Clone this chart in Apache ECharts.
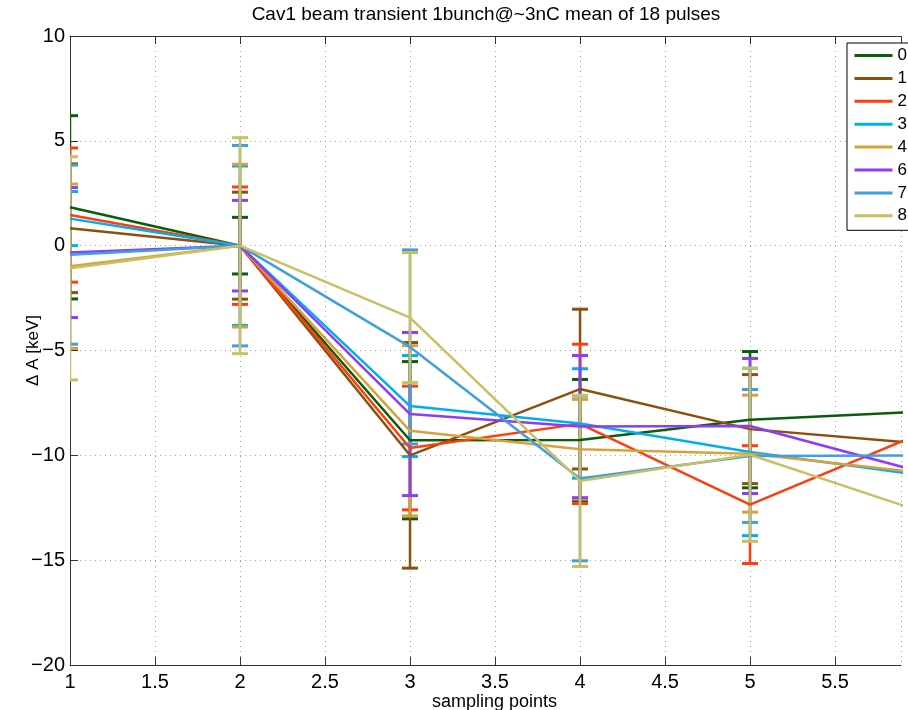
<!DOCTYPE html>
<html>
<head>
<meta charset="utf-8">
<title>Cav1 beam transient</title>
<script src="https://cdn.jsdelivr.net/npm/echarts@6/dist/echarts.min.js"></script>
<style>
  html, body { margin: 0; padding: 0; background: #fff; }
  #chart { width: 908px; height: 710px; }
</style>
</head>
<body>
<div id="chart"></div>
<script>
// Sampling points (x positions)
const samplingPoints = [1, 2, 3, 4, 5, 6];

// Bunch labels shown in the legend
const bunchNames = ['0', '1', '2', '3', '4', '6', '7', '8'];

// Mean amplitude deviation ΔA [keV] per bunch
const deltaA_0 = [1.83, 0, -9.28, -9.27, -8.30, -7.92];
const deltaA_1 = [0.83, 0, -10.0, -6.84, -8.75, -9.43];
const deltaA_2 = [1.46, 0, -9.65, -8.50, -12.35, -8.97];
const deltaA_3 = [1.29, 0, -7.65, -8.48, -9.84, -10.94];
const deltaA_4 = [-0.98, 0, -8.83, -9.71, -9.92, -10.83];
const deltaA_6 = [-0.33, 0, -8.03, -8.63, -8.60, -10.78];
const deltaA_7 = [-0.43, 0, -4.83, -11.10, -10.03, -10.00];
const deltaA_8 = [-1.08, 0, -3.43, -11.22, -9.97, -12.66];

// Error bar half-widths [keV] (null where no bar is drawn)
const err_0 = [4.37, 1.35, 3.75, 2.89, 3.25, null];
const err_1 = [3.07, 2.55, 5.38, 3.81, 2.60, null];
const err_2 = [3.20, 2.80, 2.95, 3.80, 2.81, null];
const err_3 = [1.29, 3.80, 2.41, 2.61, 3.99, null];
const err_4 = [3.92, 3.88, 4.06, 2.38, 2.79, null];
const err_6 = [3.10, 2.16, 3.89, 3.39, 3.22, null];
const err_7 = [4.27, 4.78, 4.63, 3.93, 3.17, null];
const err_8 = [5.32, 5.15, 3.10, 4.08, 4.13, null];

// Axis ticks
const xTickStep = 0.5;
const yTicks = [-20, -15, -10, -5, 0, 5, 10];

const bunchColors = ['#0b5c0b', '#8c500e', '#ff3d0d', '#00aeef', '#d9a13a', '#8b3dfa', '#40a0dc', '#c8c062'];

const meanSets = [deltaA_0, deltaA_1, deltaA_2, deltaA_3, deltaA_4, deltaA_6, deltaA_7, deltaA_8];
const errSets = [err_0, err_1, err_2, err_3, err_4, err_6, err_7, err_8];

const FONT = '"Liberation Sans", Arial, Helvetica, sans-serif';
const CAP = 8;

function errorBarRenderer(color) {
  return function (params, api) {
    const x = api.value(0), y = api.value(1), e = api.value(2);
    const top = api.coord([x, y + e]);
    const bot = api.coord([x, y - e]);
    const st = { stroke: color, lineWidth: 2.5, fill: null };
    const capSt = { stroke: color, lineWidth: 3, fill: null };
    return {
      type: 'group',
      children: [
        { type: 'line', shape: { x1: top[0], y1: top[1], x2: bot[0], y2: bot[1] }, style: st },
        { type: 'line', shape: { x1: top[0] - CAP, y1: top[1], x2: top[0] + CAP, y2: top[1] }, style: capSt },
        { type: 'line', shape: { x1: bot[0] - CAP, y1: bot[1], x2: bot[0] + CAP, y2: bot[1] }, style: capSt }
      ]
    };
  };
}

const series = [];
bunchNames.forEach(function (name, i) {
  const color = bunchColors[i];
  series.push({
    name: name,
    type: 'line',
    data: samplingPoints.map(function (x, k) { return [x, meanSets[i][k]]; }),
    symbol: 'none',
    clip: true,
    lineStyle: { color: color, width: 2.5 },
    itemStyle: { color: color },
    emphasis: { disabled: true },
    animation: false
  });
  const bars = [];
  samplingPoints.forEach(function (x, k) {
    if (errSets[i][k] != null) bars.push([x, meanSets[i][k], errSets[i][k]]);
  });
  series.push({
    name: name + ' err',
    type: 'custom',
    clip: true,
    renderItem: errorBarRenderer(color),
    data: bars,
    encode: { x: 0, y: 1 },
    animation: false,
    silent: true
  });
});

const chart = echarts.init(document.getElementById('chart'), null, { renderer: 'canvas' });

const xLabelFmt = function (v) {
  const r = Math.round(v / xTickStep) * xTickStep;
  if (Math.abs(r - v) > 1e-6 || v > 5.6) return '';
  return String(r);
};

chart.setOption({
  backgroundColor: '#ffffff',
  animation: false,
  textStyle: { fontFamily: FONT },
  grid: { left: 70, top: 36, width: 831, height: 629, containLabel: false, outerBoundsMode: 'none' },
  graphic: [
    {
      type: 'text',
      x: 486, y: 15,
      style: {
        text: 'Cav1 beam transient 1bunch@~3nC mean of 18 pulses',
        font: '19px ' + FONT,
        fill: '#000',
        textAlign: 'center',
        textVerticalAlign: 'middle'
      }
    }
  ],
  legend: {
    orient: 'vertical',
    left: 847,
    top: 43,
    data: bunchNames.map(function (n) { return { name: n, icon: 'rect' }; }),
    itemWidth: 38,
    itemHeight: 3,
    itemGap: 5.9,
    padding: [4, 12, 6, 7.5],
    borderColor: '#000',
    borderWidth: 1,
    backgroundColor: '#fff',
    selectedMode: false,
    textStyle: { color: '#000', fontSize: 17, lineHeight: 16, fontFamily: FONT }
  },
  xAxis: [
    {
      type: 'value',
      min: 1,
      max: 5.888,
      interval: xTickStep,
      name: 'sampling points',
      nameLocation: 'middle',
      nameGap: 28,
      nameMoveOverlap: false,
      nameTextStyle: { color: '#000', fontSize: 18, fontFamily: FONT, padding: [0, 0, 0, 18] },
      axisLine: { show: true, onZero: false, lineStyle: { color: '#333', width: 1 } },
      axisTick: { show: true, inside: true, length: 8, lineStyle: { color: '#333' } },
      axisLabel: { color: '#000', fontSize: 20, fontFamily: FONT, margin: 7, formatter: xLabelFmt, showMaxLabel: false },
      splitLine: { show: true, lineStyle: { color: '#a0a0a0', type: [1, 4], width: 1 } }
    },
    {
      type: 'value',
      position: 'top',
      min: 1,
      max: 5.888,
      interval: xTickStep,
      axisLine: { show: true, onZero: false, lineStyle: { color: '#333', width: 1 } },
      axisTick: { show: true, inside: true, length: 8, lineStyle: { color: '#333' } },
      axisLabel: { show: false },
      splitLine: { show: false }
    }
  ],
  yAxis: {
    type: 'value',
    min: yTicks[0],
    max: yTicks[yTicks.length - 1],
    interval: 5,
    name: 'Δ A [keV]',
    nameLocation: 'middle',
    nameGap: 28,
    nameMoveOverlap: false,
    nameRotate: 90,
    nameTextStyle: { color: '#000', fontSize: 17, fontFamily: FONT },
    axisLine: { show: true, onZero: false, lineStyle: { color: '#333', width: 1 } },
    axisTick: { show: true, inside: true, length: 8, lineStyle: { color: '#333' } },
    axisLabel: {
      color: '#000', fontSize: 20, fontFamily: FONT, margin: 5,
      formatter: function (v) { return String(v).replace('-', '\u2212'); }
    },
    splitLine: { show: true, lineStyle: { color: '#a0a0a0', type: [1, 4], width: 1 } }
  },
  series: series
});
</script>
</body>
</html>
